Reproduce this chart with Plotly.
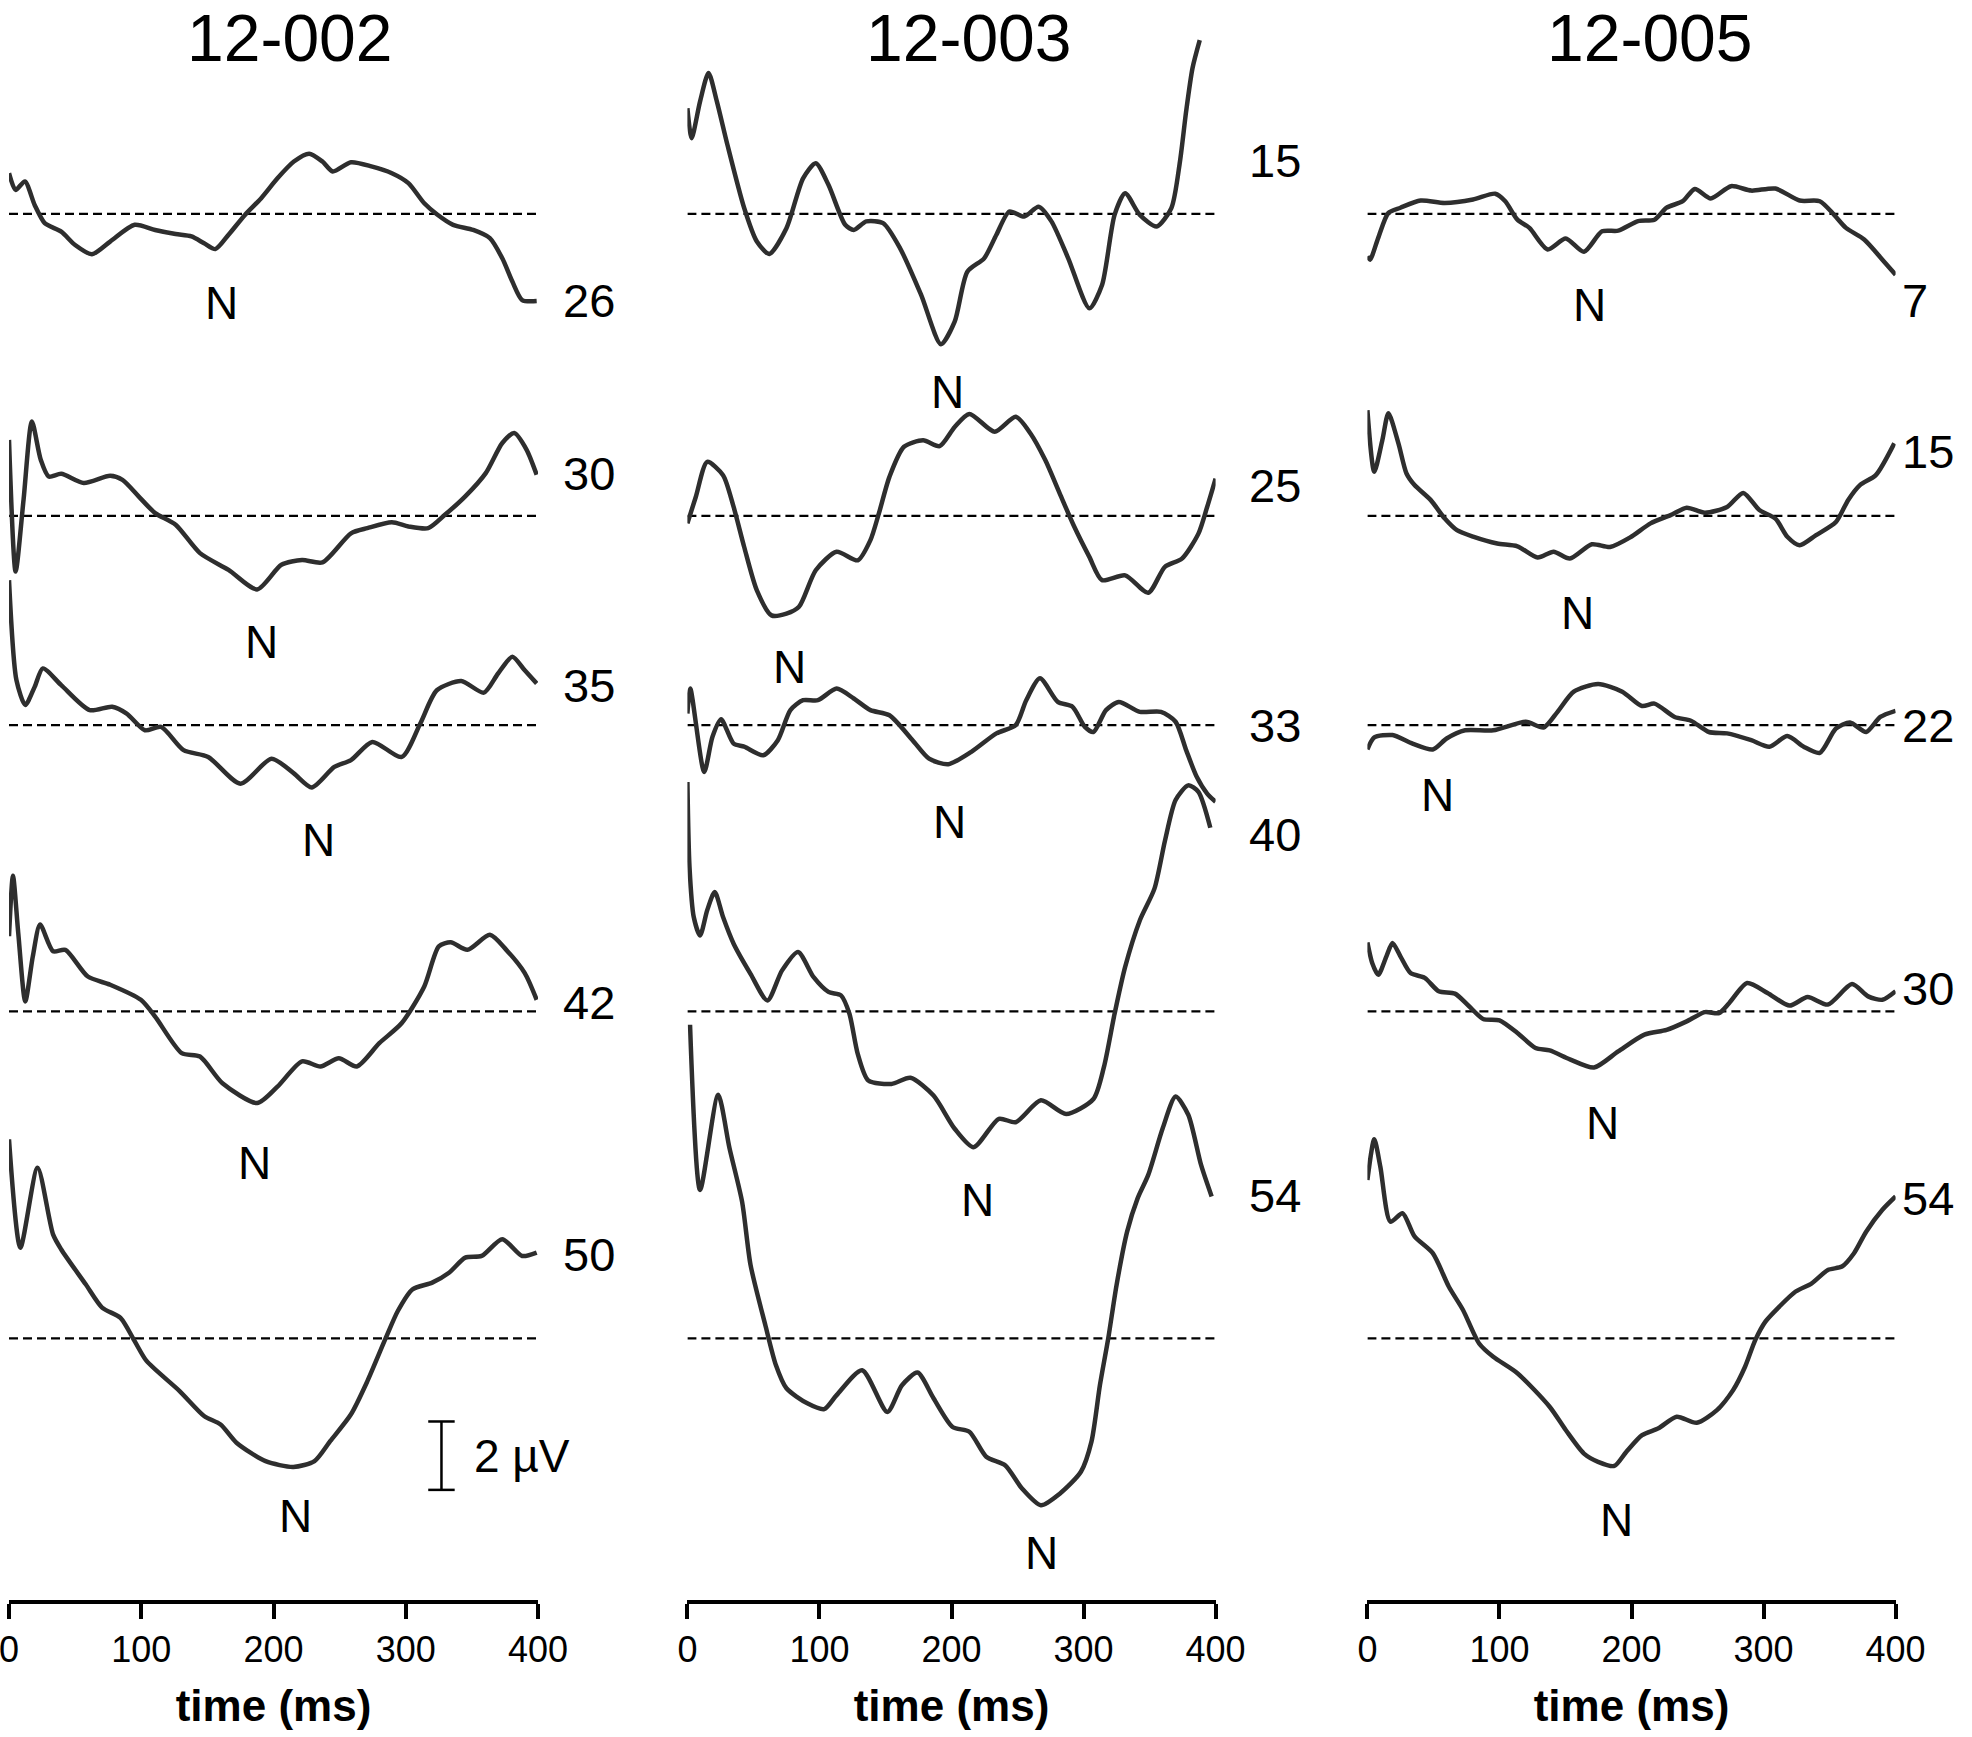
import plotly.graph_objects as go

# ---------------- data (µV relative to each trace's baseline, time in ms) ----------------
col_titles = ["12-002", "12-003", "12-005"]
trace_labels = [["26", "30", "35", "42", "50"],
                ["15", "25", "33", "40", "54"],
                ["7", "15", "22", "30", "54"]]
tick_vals = [0, 100, 200, 300, 400]
scale_bar_uv = 2

# column 1 (12-002)
c1r1_t = [0, 5, 12, 19.4, 27, 39.5, 50, 62.7, 76.5, 95, 110.5, 126, 138, 147.5, 156, 166, 178.4, 190.7, 203, 215.4, 227, 237, 244.8, 258.6, 274, 289.5, 302, 314, 323.5, 335.8, 351, 363.6, 373, 380.6, 388, 399]
c1r1_v = [1.19, 0.70, 0.95, 0.26, -0.27, -0.52, -0.91, -1.18, -0.81, -0.32, -0.47, -0.59, -0.66, -0.86, -1.03, -0.61, -0.03, 0.46, 1.04, 1.53, 1.76, 1.53, 1.24, 1.51, 1.39, 1.19, 0.90, 0.31, -0.01, -0.32, -0.47, -0.71, -1.30, -1.98, -2.52, -2.55]
c1r2_t = [0, 5, 11, 17.3, 24, 30, 39.5, 56.5, 76.5, 85.8, 98, 110.5, 126, 144.4, 166, 187.6, 206, 221.6, 237, 258.6, 271, 289.5, 302, 317, 329.6, 345, 360.5, 373, 382, 391.4, 399]
c1r2_v = [2.22, -1.63, 0.47, 2.76, 1.64, 1.15, 1.23, 0.96, 1.17, 1.05, 0.57, 0.08, -0.26, -1.09, -1.58, -2.15, -1.43, -1.29, -1.36, -0.51, -0.36, -0.19, -0.31, -0.36, 0.03, 0.57, 1.25, 2.13, 2.42, 1.93, 1.20]
c1r3_t = [0, 5.6, 12.3, 19.4, 25.6, 39.5, 61, 78, 89, 102.8, 115, 132, 150.6, 175, 198.5, 215.4, 229, 246, 258.6, 274.7, 297, 311, 323.5, 342, 359, 369.8, 380.6, 389.8, 399]
c1r3_v = [4.24, 1.32, 0.59, 1.12, 1.66, 1.17, 0.44, 0.54, 0.34, -0.15, -0.05, -0.73, -0.93, -1.71, -0.98, -1.41, -1.82, -1.22, -1.02, -0.49, -0.93, 0.05, 1.02, 1.29, 0.95, 1.51, 2.00, 1.61, 1.22]
c1r4_t = [0, 3, 7, 12.3, 18, 23.5, 33.3, 42.6, 59.6, 76.5, 99.7, 110.5, 130.6, 144.4, 161.4, 187.7, 203, 221.6, 235.5, 249.4, 263, 280, 297, 314, 325, 334, 346.6, 363.6, 376, 390, 399]
c1r4_v = [2.20, 3.97, 2.29, 0.29, 1.61, 2.54, 1.76, 1.80, 1.02, 0.78, 0.34, -0.15, -1.22, -1.32, -2.10, -2.68, -2.20, -1.46, -1.61, -1.37, -1.61, -0.93, -0.34, 0.73, 1.90, 2.02, 1.80, 2.24, 1.80, 1.12, 0.34]
c1r5_t = [0, 8.6, 21.6, 33.3, 39.5, 58, 70.4, 84.3, 95, 104, 129, 147.5, 160, 172, 194, 215, 231, 243, 258.6, 271, 285, 294, 305, 320, 332.7, 345, 357.4, 373, 388, 399]
c1r5_v = [5.82, 2.65, 4.99, 3.04, 2.60, 1.58, 0.90, 0.60, -0.08, -0.66, -1.54, -2.27, -2.52, -3.05, -3.59, -3.76, -3.59, -3.00, -2.22, -1.25, 0.02, 0.80, 1.43, 1.63, 1.92, 2.36, 2.41, 2.90, 2.41, 2.51]

# column 2 (12-003)
c2r1_t = [0, 3.2, 9.6, 16, 22.3, 30.3, 43, 52.6, 62, 75, 87.6, 97.2, 106.8, 119.5, 126, 135.5, 148.2, 161, 177, 192, 202.4, 212, 224.7, 234, 243.8, 255, 266, 275.7, 288.4, 304.4, 314, 323.5, 331.5, 342.6, 355.4, 366.5, 373, 377.7, 382.5, 388]
c2r1_v = [3.09, 2.21, 3.29, 4.12, 3.29, 2.02, 0.17, -0.81, -1.17, -0.42, 1.04, 1.48, 0.85, -0.32, -0.47, -0.22, -0.27, -1.00, -2.37, -3.81, -3.15, -1.69, -1.30, -0.61, 0.07, -0.08, 0.21, -0.22, -1.30, -2.76, -2.08, -0.03, 0.60, -0.03, -0.37, 0.17, 1.53, 3.00, 4.26, 5.08]
c2r2_t = [0, 6.4, 15, 27, 35, 43, 52.6, 63.7, 75, 84.5, 97.2, 113, 129, 138.6, 145, 153, 164, 178.5, 191, 202.4, 213.5, 232.7, 248.6, 259.8, 271, 282, 293, 304.4, 314, 331.5, 349, 361.6, 374.5, 387, 393.6, 400]
c2r2_v = [-0.22, 0.56, 1.58, 1.19, 0.26, -0.91, -2.18, -2.91, -2.86, -2.66, -1.59, -1.05, -1.30, -0.71, 0.07, 1.14, 2.02, 2.21, 2.04, 2.60, 2.98, 2.46, 2.90, 2.41, 1.63, 0.65, -0.32, -1.20, -1.88, -1.74, -2.25, -1.49, -1.25, -0.52, 0.26, 1.09]
c2r3_t = [0, 2.2, 12.7, 19, 25.5, 35, 43, 57.4, 68.5, 78, 87.6, 98.8, 113, 126, 138.6, 153, 170.5, 183, 197.6, 215, 234, 248.6, 256.6, 267, 280.5, 291.6, 301, 307.5, 317, 326.7, 342.6, 358.6, 369.7, 377.7, 385.7, 393.6, 400]
c2r3_v = [0.34, 1.07, -1.37, -0.34, 0.17, -0.54, -0.63, -0.88, -0.44, 0.44, 0.73, 0.73, 1.07, 0.78, 0.44, 0.29, -0.44, -0.98, -1.14, -0.78, -0.24, 0.00, 0.73, 1.37, 0.68, 0.54, -0.05, -0.20, 0.44, 0.68, 0.39, 0.39, 0.10, -0.73, -1.51, -2.00, -2.24]
c2r4_t = [0, 1.6, 4.8, 9.6, 15, 20.7, 27, 35, 47.8, 60.6, 71.7, 83.8, 95.6, 106.8, 116.3, 122.7, 129, 137, 154.6, 168.9, 186.4, 202.4, 216.7, 235.9, 248.6, 267.7, 286.8, 307.5, 315.4, 323.5, 331.5, 342.6, 353.7, 361.7, 369.7, 379.3, 387, 396]
c2r4_v = [6.71, 4.22, 2.76, 2.22, 2.96, 3.49, 2.76, 1.98, 1.10, 0.32, 1.20, 1.74, 1.00, 0.57, 0.47, -0.07, -1.24, -2.02, -2.12, -1.94, -2.46, -3.43, -3.97, -3.14, -3.24, -2.60, -3.00, -2.56, -1.63, -0.07, 1.30, 2.66, 3.59, 5.00, 6.18, 6.61, 6.42, 5.37]
c2r5_t = [2, 9.6, 23.3, 31.9, 41.4, 47.8, 59, 67, 75, 90.8, 103.6, 113, 132.3, 151.4, 162.5, 174.3, 186.5, 200.8, 213.5, 226.3, 240.6, 253.4, 267.7, 282, 298, 306, 312.4, 318.7, 325, 333, 341, 349, 360, 369.7, 379.3, 389, 397]
c2r5_v = [9.17, 4.34, 7.12, 5.56, 4.00, 2.15, 0.39, -0.78, -1.46, -1.90, -2.07, -1.66, -0.93, -2.15, -1.37, -1.00, -1.76, -2.59, -2.73, -3.46, -3.71, -4.39, -4.88, -4.54, -3.90, -3.02, -1.37, 0.00, 1.56, 3.12, 4.10, 4.78, 6.15, 7.07, 6.54, 5.07, 4.15]

# column 3 (12-005)
c3r1_t = [0, 2, 8.2, 15.9, 25, 40.3, 58.6, 80, 96.8, 104.4, 113.6, 122.7, 136.5, 150.2, 164, 177.7, 190, 205, 217.4, 226.6, 238.8, 248, 260, 275.4, 290.7, 309, 327.3, 342.6, 353.3, 362.4, 376.2, 390, 400]
c3r1_v = [-1.24, -1.34, -0.70, 0.03, 0.18, 0.39, 0.32, 0.42, 0.59, 0.37, -0.17, -0.41, -1.04, -0.72, -1.11, -0.51, -0.49, -0.21, -0.17, 0.18, 0.37, 0.73, 0.45, 0.81, 0.68, 0.74, 0.39, 0.37, -0.02, -0.41, -0.75, -1.34, -1.78]
c3r2_t = [0, 5.2, 11.3, 15.9, 23.5, 29.6, 35.7, 48, 58.6, 67.8, 80, 98.3, 113.6, 128.9, 141, 153.3, 170, 183.8, 199, 214.4, 229.6, 241.8, 255.6, 272.4, 284.6, 296.8, 309, 318, 327.3, 339.5, 354.8, 364, 373, 385, 399]
c3r2_v = [3.09, 1.29, 2.21, 3.00, 2.12, 1.24, 0.90, 0.46, -0.08, -0.42, -0.61, -0.81, -0.89, -1.22, -1.05, -1.25, -0.83, -0.91, -0.63, -0.22, 0.02, 0.24, 0.09, 0.26, 0.67, 0.17, -0.08, -0.61, -0.86, -0.57, -0.18, 0.46, 0.90, 1.19, 2.12]
c3r3_t = [0, 5.2, 19, 34.2, 49.5, 60, 74, 95.3, 120, 133.4, 144, 156.3, 174.7, 193, 208, 217.4, 232.7, 245, 258.6, 272.4, 290.7, 304.4, 318, 330.4, 342.6, 354.8, 365.5, 377.7, 388.4, 400]
c3r3_v = [-0.71, -0.36, -0.29, -0.54, -0.71, -0.39, -0.15, -0.15, 0.10, -0.07, 0.39, 0.98, 1.20, 0.98, 0.56, 0.63, 0.24, 0.13, -0.20, -0.24, -0.44, -0.63, -0.32, -0.63, -0.81, -0.10, 0.08, -0.20, 0.24, 0.42]
c3r4_t = [0, 3.7, 8.2, 14.4, 19, 25, 32.7, 43.4, 54, 66.3, 77, 87.6, 100, 113.6, 127.3, 138, 153.3, 171.6, 189.9, 209.8, 226.6, 241.8, 255.6, 266.3, 273.9, 287.6, 303, 319.7, 333.4, 348.7, 367, 379.2, 390, 400]
c3r4_v = [2.02, 1.41, 1.07, 1.61, 2.00, 1.61, 1.12, 0.98, 0.59, 0.52, 0.15, -0.22, -0.26, -0.63, -1.07, -1.14, -1.40, -1.64, -1.17, -0.68, -0.54, -0.29, -0.02, -0.05, 0.24, 0.83, 0.54, 0.17, 0.42, 0.20, 0.80, 0.44, 0.34, 0.59]
c3r5_t = [0, 5.2, 9.8, 17.4, 26.6, 35.7, 49.5, 61.7, 72.4, 84.6, 95.3, 113.6, 138, 150.2, 164, 174.7, 187, 196, 208, 220.4, 234.2, 249.4, 264.7, 277, 286, 293.7, 301.4, 312, 324.3, 336.5, 348.7, 359.4, 368.5, 377.7, 390, 400]
c3r5_v = [4.63, 5.82, 5.02, 3.41, 3.66, 2.98, 2.49, 1.51, 0.83, -0.15, -0.54, -1.02, -2.00, -2.68, -3.37, -3.61, -3.73, -3.32, -2.83, -2.63, -2.29, -2.47, -2.10, -1.51, -0.83, -0.05, 0.49, 0.93, 1.37, 1.61, 2.00, 2.10, 2.49, 3.12, 3.76, 4.15]

columns = [
    [(c1r1_t, c1r1_v), (c1r2_t, c1r2_v), (c1r3_t, c1r3_v), (c1r4_t, c1r4_v), (c1r5_t, c1r5_v)],
    [(c2r1_t, c2r1_v), (c2r2_t, c2r2_v), (c2r3_t, c2r3_v), (c2r4_t, c2r4_v), (c2r5_t, c2r5_v)],
    [(c3r1_t, c3r1_v), (c3r2_t, c3r2_v), (c3r3_t, c3r3_v), (c3r4_t, c3r4_v), (c3r5_t, c3r5_v)],
]

# ---------------- layout constants (positions / styles) ----------------
W, H = 1972, 1737
PLOT_BOTTOM = 1600          # pixel row of the time axis
PX_PER_UV = 34.2
Y_TOP = PLOT_BOTTOM / PX_PER_UV
row_offsets = [40.53, 31.70, 25.58, 17.21, 7.65]   # stacking offsets (µV) of each row's baseline
domains = [[9 / W, 538 / W], [687.4 / W, 1215.6 / W], [1367.4 / W, 1895.6 / W]]
xnames = ["x", "x2", "x3"]
title_x_px = [290, 969, 1650]

# number labels: left edge (figure px) and vertical centre (µV axis)
label_left_px = [561, 1247, 1900]
label_y = [[38.0, 32.95, 26.73, 17.46, 10.09],
           [42.1, 32.6, 25.58, 22.37, 11.84],
           [38.0, 33.57, 25.58, 17.89, 11.75]]
n_pos = [[(161, 37.93), (191, 28.02), (234, 22.22), (186, 12.79), (217, 2.46)],
         [(197, 35.33), (77, 27.29), (198.5, 22.76), (220, 11.70), (268, 1.37)],
         [(168, 37.87), (159, 28.85), (53, 23.54), (178, 13.94), (189, 2.34)]]

FONT = "Arial, 'Liberation Sans', Helvetica, sans-serif"
LINE_COLOR = "#2e2e2e"

fig = go.Figure()
annotations = []

for ci, col in enumerate(columns):
    xa = xnames[ci]
    for ri, (t, v) in enumerate(col):
        off = row_offsets[ri]
        # dashed baseline
        fig.add_trace(go.Scatter(x=[0, 400], y=[off, off], xaxis=xa, yaxis="y", mode="lines",
                                 line=dict(color="black", width=2.2, dash="9px,5px"),
                                 hoverinfo="skip", showlegend=False))
        # waveform
        fig.add_trace(go.Scatter(x=t, y=[off + a for a in v], xaxis=xa, yaxis="y", mode="lines",
                                 line=dict(color=LINE_COLOR, width=4.5, shape="spline", smoothing=0.7),
                                 showlegend=False))
        annotations.append(dict(x=label_left_px[ci] / W, y=label_y[ci][ri], xref="paper", yref="y",
                                text=trace_labels[ci][ri],
                                showarrow=False, xanchor="left", yanchor="middle",
                                font=dict(family=FONT, size=47, color="black")))
        nx, ny = n_pos[ci][ri]
        annotations.append(dict(x=nx, y=ny, xref=xa, yref="y", text="N",
                                showarrow=False, xanchor="center", yanchor="middle",
                                font=dict(family=FONT, size=46, color="black")))
    annotations.append(dict(x=title_x_px[ci] / W, y=1, xref="paper", yref="paper",
                            text=col_titles[ci],
                            showarrow=False, xanchor="center", yanchor="top", borderpad=0,
                            font=dict(family=FONT, size=66, color="black")))

# scale bar (2 µV) in column 1
sb_bottom = 3.22
sb_top = sb_bottom + scale_bar_uv
fig.add_trace(go.Scatter(x=[317, 337, None, 327, 327, None, 317, 337],
                         y=[sb_top, sb_top, None, sb_top, sb_bottom, None, sb_bottom, sb_bottom],
                         xaxis="x", yaxis="y", mode="lines",
                         line=dict(color="black", width=2.5), hoverinfo="skip", showlegend=False))
annotations.append(dict(x=350, y=(sb_top + sb_bottom) / 2, xref="x", yref="y",
                        text=f"{scale_bar_uv} µV", showarrow=False, xanchor="left", yanchor="middle",
                        font=dict(family=FONT, size=46, color="black")))

axis_common = dict(range=[0, 400], tickvals=tick_vals, showline=True, linecolor="black", linewidth=4,
                   ticks="outside", ticklen=15, tickwidth=4, tickcolor="black", showgrid=False,
                   zeroline=False, anchor="y", automargin=False, ticklabeloverflow="allow",
                   tickfont=dict(family=FONT, size=36, color="black"),
                   title=dict(text="<b>time (ms)</b>", font=dict(family=FONT, size=44, color="black"),
                              standoff=22))

fig.update_layout(
    width=W, height=H,
    margin=dict(l=0, r=0, t=0, b=H - PLOT_BOTTOM, autoexpand=False),
    paper_bgcolor="white", plot_bgcolor="white",
    xaxis=dict(domain=domains[0], **axis_common),
    xaxis2=dict(domain=domains[1], **axis_common),
    xaxis3=dict(domain=domains[2], **axis_common),
    yaxis=dict(range=[0, Y_TOP], visible=False, showgrid=False, zeroline=False, fixedrange=True),
    annotations=annotations,
    showlegend=False,
)

fig.write_html("out.html", config={"displayModeBar": False},
               post_script="document.body.style.margin='0';document.body.style.padding='0';"
                           "document.body.style.overflow='hidden';")
